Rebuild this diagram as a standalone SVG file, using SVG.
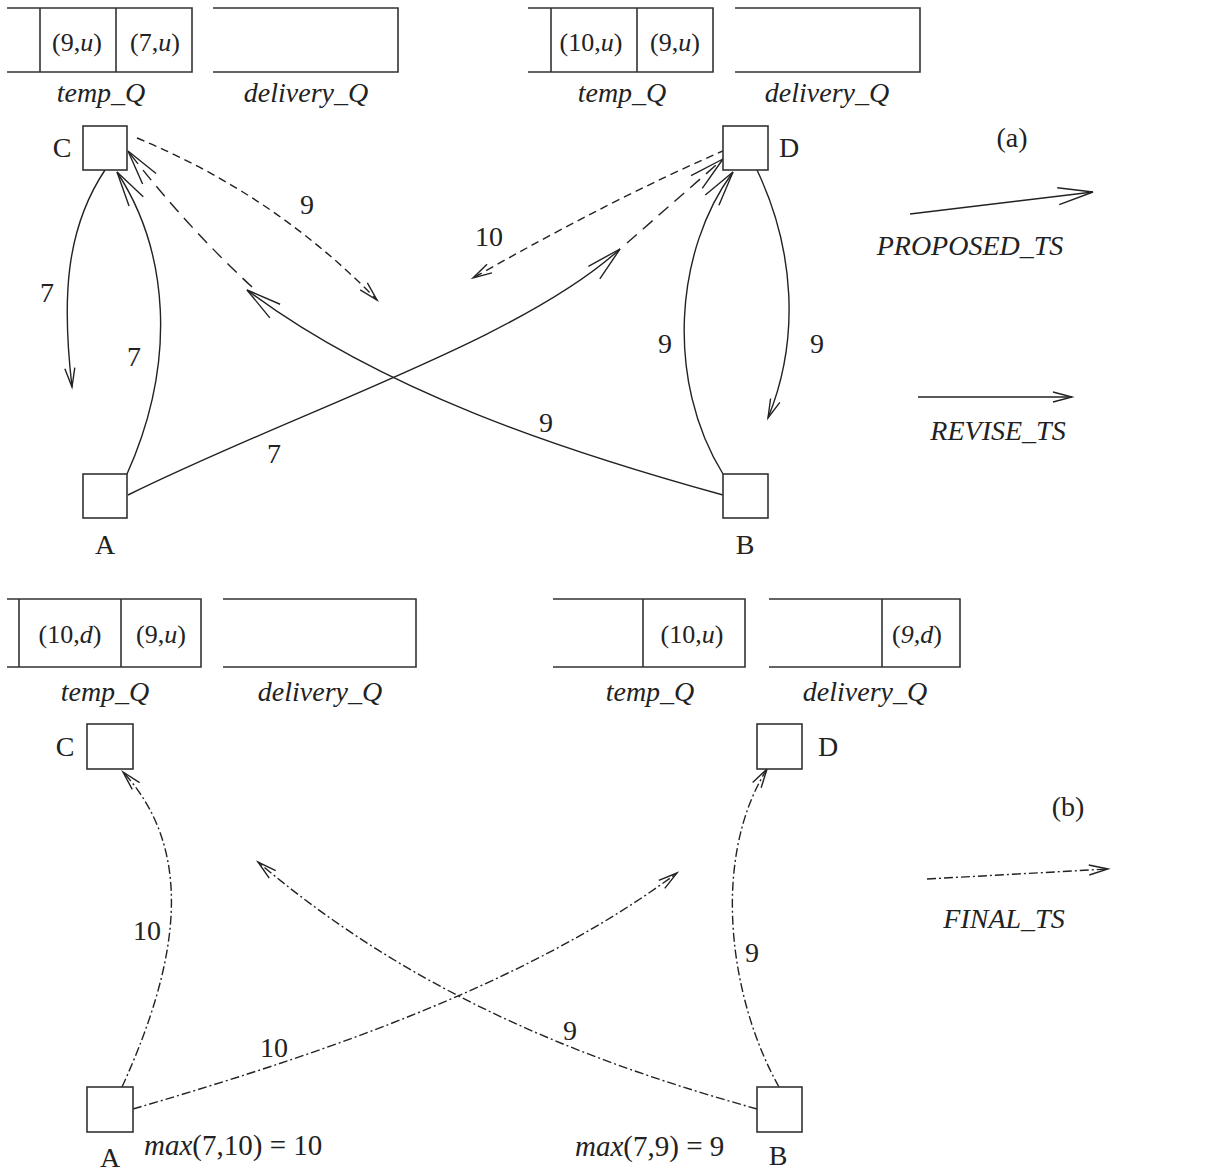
<svg xmlns="http://www.w3.org/2000/svg" width="1208" height="1171" viewBox="0 0 1208 1171">
<style>
text{font-family:"Liberation Serif","Times New Roman",serif;fill:#222;}
.lbl{font-size:28px;text-anchor:middle;}
.it{font-style:italic;}
.q{font-size:26px;text-anchor:middle;}
.box{fill:#fff;stroke:#333;stroke-width:1.6;}
.ql{fill:none;stroke:#333;stroke-width:1.6;}
.e{fill:none;stroke:#222;stroke-width:1.4;}
.dash{stroke-dasharray:8 5;}
.ldash{stroke-dasharray:13 8;}
.dd{stroke-dasharray:9 3 2 3;}
</style>
<defs>
<marker id="pl" markerUnits="userSpaceOnUse" markerWidth="50" markerHeight="30" refX="0" refY="0" viewBox="-40 -15 50 30" orient="auto" overflow="visible">
<path d="M-35,-8.5 L0,0 L-35,8.5" fill="none" stroke="#222" stroke-width="1.4" stroke-dasharray="none"/>
</marker>
<marker id="ps" markerUnits="userSpaceOnUse" markerWidth="30" markerHeight="20" refX="0" refY="0" viewBox="-25 -10 30 20" orient="auto" overflow="visible">
<path d="M-19,-5 L0,0 L-19,5" fill="none" stroke="#222" stroke-width="1.4" stroke-dasharray="none"/>
</marker>
</defs>

<g id="queues">
<g id="q-top-left">
<path class="ql" d="M7,8 H192 V72 H7 M40,8 V72 M116,8 V72"/>
<path class="ql" d="M213,8 H398 V72 H213"/>
<text class="q" x="77" y="51">(9,<tspan class="it">u</tspan>)</text>
<text class="q" x="155" y="51">(7,<tspan class="it">u</tspan>)</text>
<text class="lbl it" x="101" y="102">temp_Q</text>
<text class="lbl it" x="306" y="102">delivery_Q</text>
</g>
<g id="q-top-right">
<path class="ql" d="M528,8 H713 V72 H528 M551,8 V72 M637,8 V72"/>
<path class="ql" d="M735,8 H920 V72 H735"/>
<text class="q" x="591" y="51">(10,<tspan class="it">u</tspan>)</text>
<text class="q" x="675" y="51">(9,<tspan class="it">u</tspan>)</text>
<text class="lbl it" x="622" y="102">temp_Q</text>
<text class="lbl it" x="827" y="102">delivery_Q</text>
</g>
<g id="q-bottom-left">
<path class="ql" d="M7,599 H201 V667 H7 M19,599 V667 M121,599 V667"/>
<path class="ql" d="M223,599 H416 V667 H223"/>
<text class="q" x="70" y="643">(10,<tspan class="it">d</tspan>)</text>
<text class="q" x="161" y="643">(9,<tspan class="it">u</tspan>)</text>
<text class="lbl it" x="105" y="701">temp_Q</text>
<text class="lbl it" x="320" y="701">delivery_Q</text>
</g>
<g id="q-bottom-right">
<path class="ql" d="M553,599 H745 V667 H553 M643,599 V667"/>
<path class="ql" d="M769,599 H960 V667 H769 M882,599 V667"/>
<text class="q" x="692" y="643">(10,<tspan class="it">u</tspan>)</text>
<text class="q" x="917" y="643">(<tspan class="it">9,d</tspan>)</text>
<text class="lbl it" x="650" y="701">temp_Q</text>
<text class="lbl it" x="865" y="701">delivery_Q</text>
</g>
</g>

<g id="connectors">
<!-- (a) -->
<path class="e" d="M105,170 C65,230 62,300 72,387" marker-end="url(#ps)"/>
<path class="e" d="M127,474 C178,360 168,250 117,172" marker-end="url(#pl)"/>
<path class="e dash" d="M137,138 Q275,195 377,300" marker-end="url(#ps)"/>
<path class="e" d="M723,495 C560,450 380,390 247,290" marker-end="url(#pl)"/>
<path class="e ldash" d="M252,287 Q185,225 128,151" marker-end="url(#pl)"/>
<path class="e" d="M128,495 C300,410 520,340 620,249" marker-end="url(#pl)"/>
<path class="e ldash" d="M627,243 L723,159" marker-end="url(#pl)"/>
<path class="e dash" d="M725,150 Q610,200 473,278" marker-end="url(#ps)"/>
<path class="e" d="M723,474 C665,380 675,250 733,172" marker-end="url(#pl)"/>
<path class="e" d="M757,170 C795,250 800,340 768,418" marker-end="url(#ps)"/>
<!-- (b) -->
<path class="e dd" d="M122,1087 C180,960 195,850 123,772" marker-end="url(#ps)"/>
<path class="e dd" d="M133,1109 C300,1060 520,990 677,873" marker-end="url(#ps)"/>
<path class="e dd" d="M757,1109 C600,1065 420,1000 258,862" marker-end="url(#ps)"/>
<path class="e dd" d="M779,1087 C730,1000 710,860 767,769" marker-end="url(#ps)"/>
</g>

<g id="edge-labels">
<text class="lbl" x="47" y="302">7</text>
<text class="lbl" x="134" y="366">7</text>
<text class="lbl" x="307" y="214">9</text>
<text class="lbl" x="489" y="246">10</text>
<text class="lbl" x="546" y="432">9</text>
<text class="lbl" x="274" y="463">7</text>
<text class="lbl" x="665" y="353">9</text>
<text class="lbl" x="817" y="353">9</text>
<text class="lbl" x="147" y="940">10</text>
<text class="lbl" x="274" y="1057">10</text>
<text class="lbl" x="570" y="1040">9</text>
<text class="lbl" x="752" y="962">9</text>
</g>

<g id="node-C-a"><rect class="box" x="83" y="126" width="44" height="44"/><text class="lbl" x="62" y="157">C</text></g>
<g id="node-D-a"><rect class="box" x="723" y="126" width="45" height="44"/><text class="lbl" x="789" y="157">D</text></g>
<g id="node-A-a"><rect class="box" x="83" y="474" width="44" height="44"/><text class="lbl" x="105" y="554">A</text></g>
<g id="node-B-a"><rect class="box" x="723" y="474" width="45" height="44"/><text class="lbl" x="745" y="554">B</text></g>

<g id="node-C-b"><rect class="box" x="87" y="724" width="46" height="45"/><text class="lbl" x="65" y="756">C</text></g>
<g id="node-D-b"><rect class="box" x="757" y="724" width="45" height="45"/><text class="lbl" x="828" y="756">D</text></g>
<g id="node-A-b"><rect class="box" x="87" y="1087" width="46" height="45"/><text class="lbl" x="110" y="1167">A</text></g>
<g id="node-B-b"><rect class="box" x="757" y="1087" width="45" height="45"/><text class="lbl" x="778" y="1165">B</text></g>

<g id="annotations">
<text style="font-size:29px" x="144" y="1155"><tspan class="it">max</tspan>(7,10) = 10</text>
<text style="font-size:29px" x="575" y="1156"><tspan class="it">max</tspan>(7,9) = 9</text>
</g>

<g id="legend">
<text class="lbl" x="1012" y="147">(a)</text>
<path class="e" d="M910,214 L1093,192" marker-end="url(#pl)"/>
<text class="lbl it" x="970" y="255">PROPOSED_TS</text>
<path class="e" d="M918,397 L1072,397" marker-end="url(#ps)"/>
<text class="lbl it" x="998" y="440">REVISE_TS</text>
<text class="lbl" x="1068" y="816">(b)</text>
<path class="e dd" d="M927,879 L1108,869" marker-end="url(#ps)"/>
<text class="lbl it" x="1004" y="928">FINAL_TS</text>
</g>
</svg>
